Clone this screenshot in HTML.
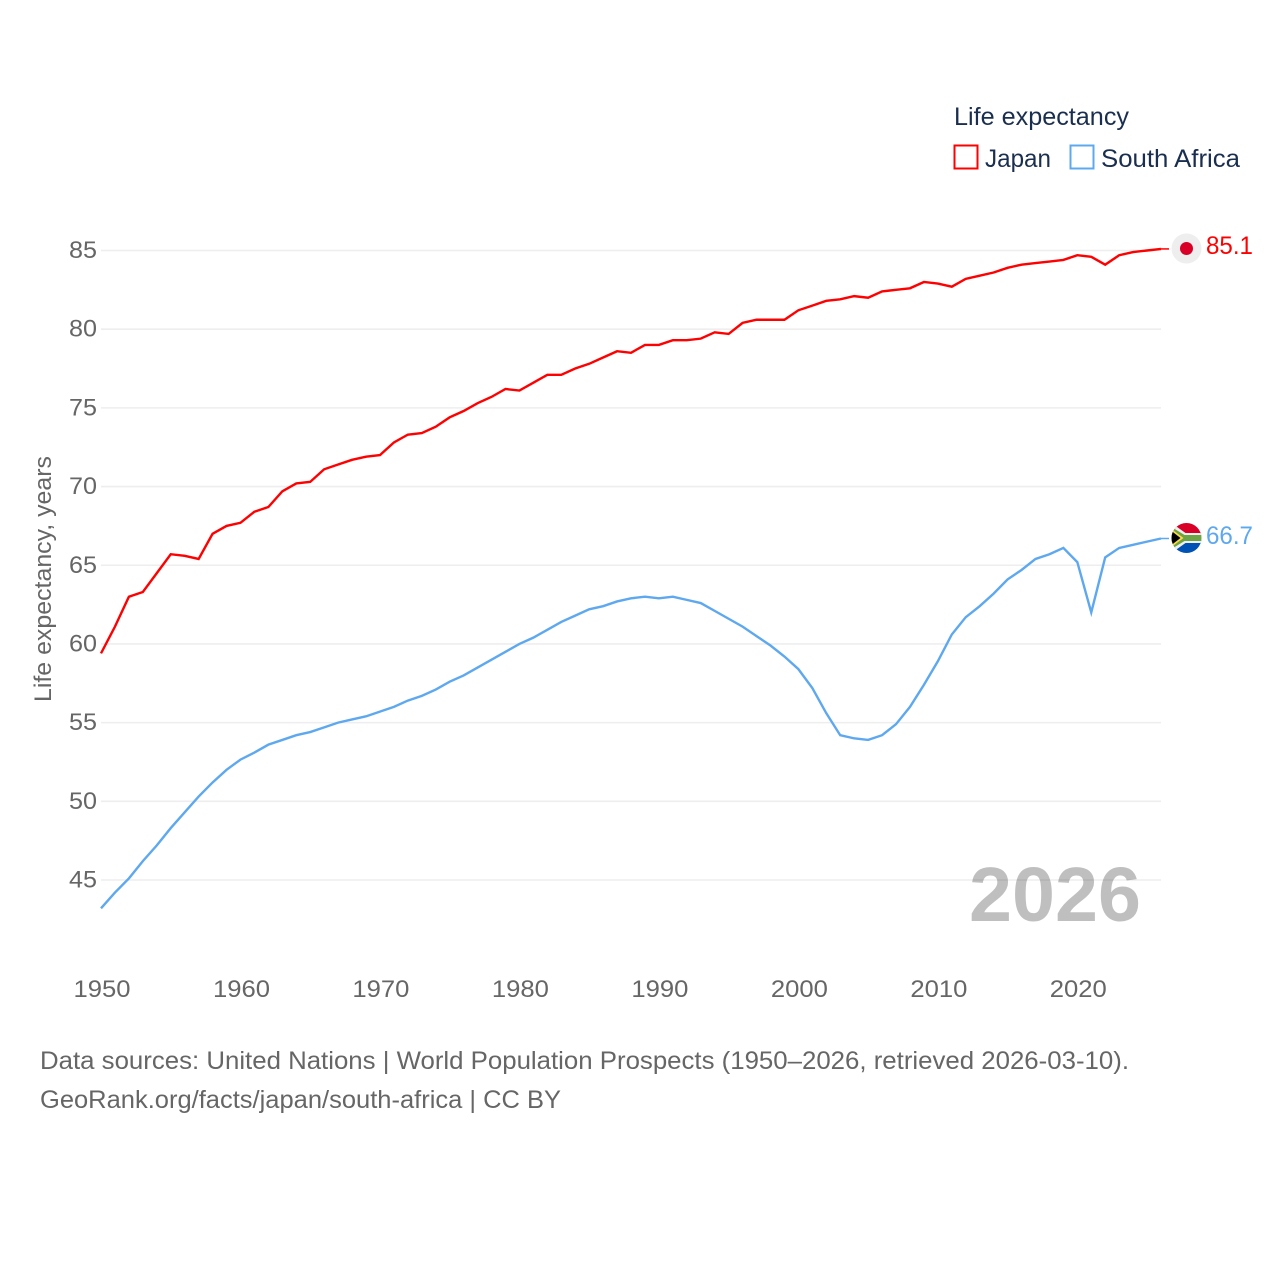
<!DOCTYPE html>
<html lang="en">
<head>
<meta charset="utf-8">
<title>Life expectancy: Japan and South Africa</title>
<style>
html,body{margin:0;padding:0;background:#fff;}
svg{display:block;font-family:"Liberation Sans",sans-serif;}
</style>
</head>
<body>
<svg id="chart" width="1280" height="1280" viewBox="0 0 1280 1280" xmlns="http://www.w3.org/2000/svg">
  <defs>
    <clipPath id="flag-clip"><circle cx="0" cy="0" r="15"></circle></clipPath>
  </defs>
  <rect x="0" y="0" width="1280" height="1280" fill="#fff"></rect>
  <g id="grid"></g>
  <g id="yticks"></g>
  <g id="xticks"></g>
  <text transform="translate(51,702) rotate(-90)" font-size="24" fill="#666" textLength="246" lengthAdjust="spacingAndGlyphs">Life expectancy, years</text>

  <text x="954" y="125" font-size="25" fill="#1a2e4f" textLength="175" lengthAdjust="spacingAndGlyphs">Life expectancy</text>
  <rect x="954.5" y="145.5" width="23" height="23" fill="none" stroke="#ff0000" stroke-width="2"></rect>
  <text x="985" y="167" font-size="25" fill="#1a2e4f" textLength="66" lengthAdjust="spacingAndGlyphs">Japan</text>
  <rect x="1070.5" y="145.5" width="23" height="23" fill="none" stroke="#5ea8ef" stroke-width="2"></rect>
  <text x="1101" y="167" font-size="25" fill="#1a2e4f" textLength="139" lengthAdjust="spacingAndGlyphs">South Africa</text>

  <g id="series"></g>

  <g transform="translate(1186.5,248.5)">
    <circle r="15" fill="#eeeeee"></circle>
    <circle r="6.5" fill="#d80027"></circle>
  </g>
  <g transform="translate(1186.5,538)">
    <g clip-path="url(#flag-clip)">
      <rect x="-15" y="-15" width="30" height="15" fill="#d80027"></rect>
      <rect x="-15" y="0" width="30" height="15" fill="#0052b4"></rect>
      <path d="M-15,-15 L-1,-5 L15,-5 L15,5 L-1,5 L-15,15 Z" fill="#f0f0f0"></path>
      <path d="M-15,-11 L-2,-3 L15,-3 L15,3 L-2,3 L-15,11 Z" fill="#6da544"></path>
      <path d="M-15,-9 L-3,0 L-15,9 Z" fill="#ffda44"></path>
      <path d="M-15,-7 L-6,0 L-15,7 Z" fill="#000"></path>
    </g>
  </g>
  <text id="label-japan" x="1206" y="254" font-size="25" fill="#ff0000" textLength="47" lengthAdjust="spacingAndGlyphs"></text>
  <text id="label-sa" x="1206" y="544" font-size="25" fill="#5ea8ef" textLength="47" lengthAdjust="spacingAndGlyphs"></text>

  <text x="969" y="921" font-size="77" font-weight="700" fill="#000" fill-opacity="0.25" textLength="172" lengthAdjust="spacingAndGlyphs">2026</text>

  <text x="40" y="1069" font-size="25" fill="#666" textLength="1089" lengthAdjust="spacingAndGlyphs">Data sources: United Nations | World Population Prospects (1950–2026, retrieved 2026-03-10).</text>
  <text x="40" y="1108" font-size="25" fill="#666" textLength="521" lengthAdjust="spacingAndGlyphs">GeoRank.org/facts/japan/south-africa | CC BY</text>
</svg>
<script>
const startYear = 1950;
const endYear = 2026;
const yTicks = [45, 50, 55, 60, 65, 70, 75, 80, 85];
const xTicks = [1950, 1960, 1970, 1980, 1990, 2000, 2010, 2020];
const japanValues = [59.4,61.1,63.0,63.3,64.5,65.7,65.6,65.4,67.0,67.5,67.7,68.4,68.7,69.7,70.2,70.3,71.1,71.4,71.7,71.9,72.0,72.8,73.3,73.4,73.8,74.4,74.8,75.3,75.7,76.2,76.1,76.6,77.1,77.1,77.5,77.8,78.2,78.6,78.5,79.0,79.0,79.3,79.3,79.4,79.8,79.7,80.4,80.6,80.6,80.6,81.2,81.5,81.8,81.9,82.1,82.0,82.4,82.5,82.6,83.0,82.9,82.7,83.2,83.4,83.6,83.9,84.1,84.2,84.3,84.4,84.7,84.6,84.1,84.7,84.9,85.0,85.1];
const southAfricaValues = [43.2,44.2,45.1,46.2,47.2,48.3,49.3,50.3,51.2,52.0,52.65,53.1,53.6,53.9,54.2,54.4,54.7,55.0,55.2,55.4,55.7,56.0,56.4,56.7,57.1,57.6,58.0,58.5,59.0,59.5,60.0,60.4,60.9,61.4,61.8,62.2,62.4,62.7,62.9,63.0,62.9,63.0,62.8,62.6,62.1,61.6,61.1,60.5,59.9,59.2,58.4,57.2,55.6,54.2,54.0,53.9,54.2,54.9,56.0,57.4,58.9,60.6,61.7,62.4,63.2,64.1,64.7,65.4,65.7,66.1,65.2,62.0,65.5,66.1,66.3,66.5,66.7];

const NS = 'http://www.w3.org/2000/svg';
function xScale(year) { return 101 + (year - startYear) * (1161 - 101) / (endYear - startYear); }
function yScale(v) { return 880 + (v - 45) * (250.5 - 880) / 40; }
function linePath(values) {
  return values.map(function (v, i) {
    return (i ? 'L' : 'M') + xScale(startYear + i).toFixed(2) + ',' + yScale(v).toFixed(2);
  }).join(' ');
}

const grid = document.getElementById('grid');
const yG = document.getElementById('yticks');
const xG = document.getElementById('xticks');
const seriesG = document.getElementById('series');

yTicks.forEach(function (t) {
  const l = document.createElementNS(NS, 'line');
  
  
  l.setAttribute('x1', xScale(startYear));
  l.setAttribute('x2', xScale(endYear));
  l.setAttribute('y1', yScale(t));
  l.setAttribute('y2', yScale(t));
  l.setAttribute('stroke', '#eeeeee');
  l.setAttribute('stroke-width', '1.6');
  grid.appendChild(l);

  const s = document.createElementNS(NS, 'text');
  
  
  s.setAttribute('x', 97);
  s.setAttribute('y', yScale(t) + 7.5);
  s.setAttribute('text-anchor', 'end');
  s.setAttribute('font-size', '24');
  s.setAttribute('fill', '#666');
  s.setAttribute('textLength', '28');
  s.setAttribute('lengthAdjust', 'spacingAndGlyphs');
  s.textContent = t;
  yG.appendChild(s);
});

xTicks.forEach(function (t) {
  const s = document.createElementNS(NS, 'text');
  
  
  s.setAttribute('x', xScale(t) + 1);
  s.setAttribute('y', 997);
  s.setAttribute('text-anchor', 'middle');
  s.setAttribute('font-size', '24');
  s.setAttribute('fill', '#666');
  s.setAttribute('textLength', '57');
  s.setAttribute('lengthAdjust', 'spacingAndGlyphs');
  s.textContent = t;
  xG.appendChild(s);
});

const japanLine = document.createElementNS(NS, 'path');


japanLine.setAttribute('d', linePath(japanValues));
japanLine.setAttribute('fill', 'none');
japanLine.setAttribute('stroke', '#ff0000');
japanLine.setAttribute('stroke-width', '2.4');
seriesG.appendChild(japanLine);

const saLine = document.createElementNS(NS, 'path');


saLine.setAttribute('d', linePath(southAfricaValues));
saLine.setAttribute('fill', 'none');
saLine.setAttribute('stroke', '#5ea8ef');
saLine.setAttribute('stroke-width', '2.4');
seriesG.appendChild(saLine);

const japanConn = document.createElementNS(NS, 'line');


japanConn.setAttribute('x1', xScale(endYear));
japanConn.setAttribute('x2', 1169);
japanConn.setAttribute('y1', yScale(japanValues[japanValues.length - 1]));
japanConn.setAttribute('y2', yScale(japanValues[japanValues.length - 1]));
japanConn.setAttribute('stroke', '#ff0000');
japanConn.setAttribute('stroke-width', '1.5');
seriesG.appendChild(japanConn);

const saConn = document.createElementNS(NS, 'line');


saConn.setAttribute('x1', xScale(endYear));
saConn.setAttribute('x2', 1169);
saConn.setAttribute('y1', yScale(southAfricaValues[southAfricaValues.length - 1]));
saConn.setAttribute('y2', yScale(southAfricaValues[southAfricaValues.length - 1]));
saConn.setAttribute('stroke', '#5ea8ef');
saConn.setAttribute('stroke-width', '1.5');
seriesG.appendChild(saConn);

document.getElementById('label-japan').textContent = japanValues[japanValues.length - 1].toFixed(1);
document.getElementById('label-sa').textContent = southAfricaValues[southAfricaValues.length - 1].toFixed(1);
</script>
</body>
</html>
